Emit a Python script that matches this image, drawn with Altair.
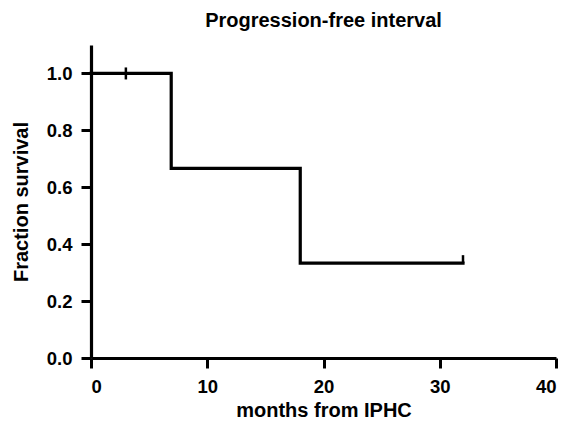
import altair as alt
import pandas as pd

# Kaplan-Meier step data
months = [0, 6.9, 18, 32]
survival = [1.0, 0.6667, 0.3333, 0.3333]

# censored observations
censor_mid_months = [3]
censor_mid_survival = [1.0]
censor_end_months = [32]
censor_end_survival = [0.3333]

x_ticks = [0, 10, 20, 30, 40]
y_ticks = [0.0, 0.2, 0.4, 0.6, 0.8, 1.0]

df = pd.DataFrame({"months": months, "survival": survival})
cdf1 = pd.DataFrame({"months": censor_mid_months, "survival": censor_mid_survival})
cdf2 = pd.DataFrame({"months": censor_end_months, "survival": censor_end_survival})

FONT = "Liberation Sans"

x_enc = alt.X(
    "months:Q",
    scale=alt.Scale(domain=[0, 40], nice=False, zero=False),
    axis=alt.Axis(values=x_ticks, title="months from IPHC", format="d"),
)
y_enc = alt.Y(
    "survival:Q",
    scale=alt.Scale(domain=[0, 1.1], nice=False),
    axis=alt.Axis(values=y_ticks, title="Fraction survival", format=".1f"),
)

line = alt.Chart(df).mark_line(
    interpolate="step-after", color="black", strokeWidth=3.2, strokeCap="square"
).encode(x=x_enc, y=y_enc)

tick1 = alt.Chart(cdf1).mark_tick(
    color="black", thickness=2.5, size=12, orient="vertical", opacity=1
).encode(x="months:Q", y="survival:Q")

tick2 = alt.Chart(cdf2).mark_tick(
    color="black", thickness=2.5, size=8, orient="vertical", opacity=1, yOffset=-4
).encode(x="months:Q", y="survival:Q")

chart = (
    alt.layer(line, tick1, tick2)
    .properties(
        width=465,
        height=313,
        title=alt.TitleParams(
            "Progression-free interval",
            font=FONT,
            fontSize=20,
            fontWeight="bold",
            color="black",
            anchor="middle",
            offset=14,
        ),
        autosize=alt.AutoSizeParams(type="none"),
        padding={"left": 83, "top": 37, "right": 9, "bottom": 63},
    )
    .configure_view(stroke=None)
    .configure_axis(
        grid=False,
        domainColor="black",
        domainWidth=3.2,
        tickColor="black",
        tickWidth=3,
        tickSize=10,
        labelFont=FONT,
        labelFontSize=18.5,
        labelFontWeight="bold",
        labelColor="black",
        labelPadding=9,
        titleFont=FONT,
        titleFontSize=20,
        titleFontWeight="bold",
        titleColor="black",
    )
    .configure_axisX(titlePadding=5)
    .configure_axisY(titlePadding=15)
)

chart.save("out.html", embed_options={"renderer": "svg", "actions": False})
